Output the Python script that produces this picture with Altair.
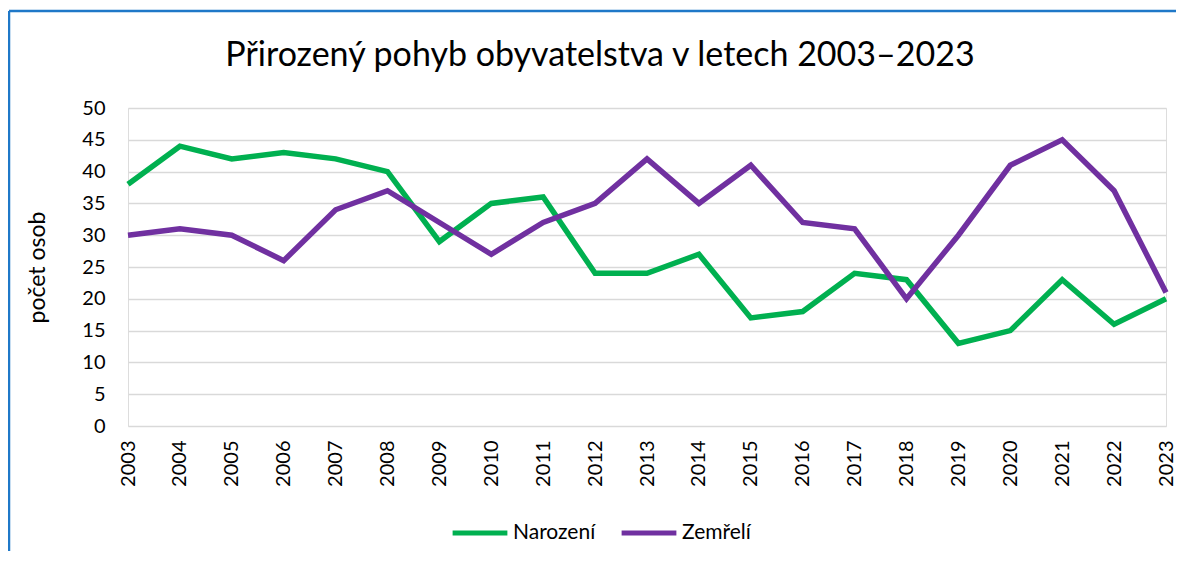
import altair as alt
import pandas as pd

years = list(range(2003, 2024))
narozeni = [38, 44, 42, 43, 42, 40, 29, 35, 36, 24, 24, 27, 17, 18, 24, 23, 13, 15, 23, 16, 20]
zemreli = [30, 31, 30, 26, 34, 37, 32, 27, 32, 35, 42, 35, 41, 32, 31, 20, 30, 41, 45, 37, 21]
series = ["Narození", "Zemřelí"]
colors = ["#00B050", "#7030A0"]
y_ticks = list(range(0, 55, 5))

rows = []
for y, n, z in zip(years, narozeni, zemreli):
    rows.append({"rok": str(y), "serie": series[0], "pocet": n})
    rows.append({"rok": str(y), "serie": series[1], "pocet": z})
df = pd.DataFrame(rows)

FONT = "Lato"

lines = alt.Chart(df).mark_line(strokeWidth=5.5, strokeJoin="miter", strokeCap="butt").encode(
    x=alt.X("rok:O", scale=alt.Scale(type="point", padding=0),
            axis=alt.Axis(title=None, labelAngle=-90, labelFontSize=20, labelPadding=14,
                          ticks=False, domain=False, grid=False, labelColor="#000000",
                          labelFont=FONT)),
    y=alt.Y("pocet:Q", scale=alt.Scale(domain=[0, 50], nice=False),
            axis=alt.Axis(title="počet osob", values=y_ticks, labelFontSize=20, labelPadding=23,
                          ticks=False, domain=False, gridColor="#D9D9D9", gridWidth=1.5,
                          labelColor="#000000", titleColor="#000000", titleFontSize=23,
                          titleFontWeight="normal", titleFont=FONT, labelFont=FONT,
                          titleX=-91, titleY=159, titleAngle=-90, titleBaseline="middle",
                          titleAlign="center")),
    color=alt.Color("serie:N", scale=alt.Scale(domain=series, range=colors),
                    legend=alt.Legend(title=None, orient="none", legendX=322, legendY=395,
                                      direction="horizontal", symbolType="stroke",
                                      symbolSize=3000, symbolStrokeWidth=5,
                                      labelFontSize=21, labelFont=FONT, labelColor="#000000",
                                      columnPadding=15, labelOffset=3)),
    order=alt.Order("rok:O"),
)

border = alt.Chart(pd.DataFrame({"a": [0]}))
top_line = border.mark_rule(stroke="#1F78C8", strokeWidth=2.5).encode(
    x=alt.value(-119), x2=alt.value(1200), y=alt.value(-97)
)
left_line = border.mark_rule(stroke="#1F78C8", strokeWidth=2.5).encode(
    x=alt.value(-119), y=alt.value(-97), y2=alt.value(600)
)

chart = alt.layer(top_line, left_line, lines).properties(
    width=1038,
    height=318,
    title=alt.Title("Přirozený pohyb obyvatelstva v letech 2003–2023", fontSize=34,
                    font=FONT, fontWeight="normal", color="#000000", dx=-47, offset=0,
                    dy=63, frame="group"),
    autosize=alt.AutoSizeParams(type="none"),
    padding={"left": 120, "top": 100, "right": 10, "bottom": 125},
).configure_view(stroke=None).configure(background="white")

chart.save("out.html", embed_options={"renderer": "svg", "actions": False})
